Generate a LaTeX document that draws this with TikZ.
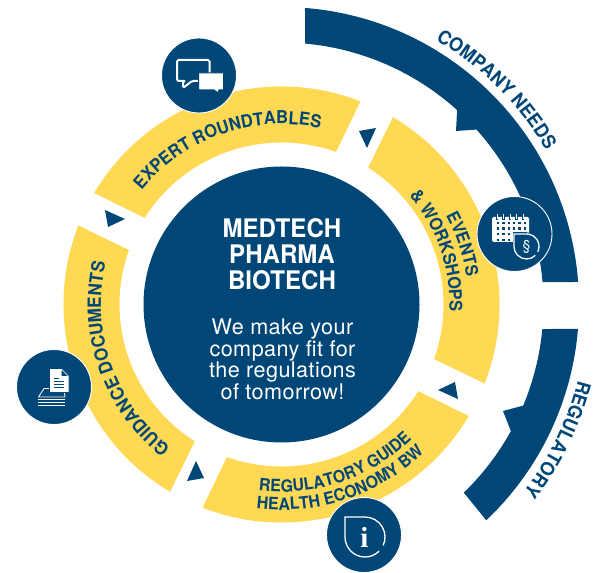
\documentclass[tikz,border=0pt]{standalone}
\usepackage{fontspec}
\setmainfont{TeX Gyre Heros}
\newfontfamily\narrowf[FakeStretch=0.94]{TeX Gyre Heros}
\newfontfamily\serifi{Liberation Serif}
\usetikzlibrary{decorations.text}
\definecolor{navy}{RGB}{0,71,119}
\definecolor{sun}{RGB}{255,216,84}
\newcommand{\fs}[1]{\fontsize{#1}{#1}\selectfont}
% yellow segment: outer a1 -> a2 (cw), inner a2i -> a1i (ccw)
\newcommand{\yseg}[4]{\fill[sun] (#1:218) arc[start angle=#1,end angle=#2,radius=218] -- (#3:162) arc[start angle=#3,end angle=#4,radius=162] -- cycle;}
% text along arc: size, radius, start angle, end angle, text
\newcommand{\arctxt}[5]{\path[decorate,decoration={text along path,text align=center,raise=0pt,
   text={|\narrowf\fs{#1}\bfseries\color{navy}|#5}}] (#3:#2) arc[start angle=#3,end angle=#4,radius=#2];}
% drop outline: cx, cy, r (image coordinates; gap at lower right)
\newcommand{\dropline}[3]{\fill[navy] (#1-#3-1.5,#2-#3-1.5) rectangle (#1,#2);
  \fill[navy] (#1,#2) circle (#3+1.5);
  \draw[white,line width=1.3pt,line join=miter] ([shift={(#1,#2)}]45:#3) arc[start angle=45,end angle=180,radius=#3] -- (#1-#3,#2-#3) -- (#1,#2-#3) arc[start angle=270,end angle=385,radius=#3];}
\tikzset{
  iconball/.style={circle,fill=navy,draw=white,line width=0.9pt,minimum size=75pt,inner sep=0pt},
  iconline/.style={draw=white,line width=2pt,line join=round},
  centertitle/.style={text=white,font=\narrowf\fs{25.6}\bfseries,align=center,inner sep=0pt},
  centerbody/.style={text=white,font=\fs{21.6}\addfontfeature{LetterSpace=2},align=center,inner sep=0pt}
}
\begin{document}
\begin{tikzpicture}[x=1pt,y=1pt]
\useasboundingbox (0,0) rectangle (593,572);
\begin{scope}[shift={(281.5,267.5)}]
  % company needs arc
  \fill[navy] (85.47:297.5) arc[start angle=85.47,end angle=4.34,radius=297.5]
     -- (4.9:262) arc[start angle=4.9,end angle=41.9,radius=262]
     -- (174.5,173.5) -- (47.9:262) arc[start angle=47.9,end angle=84.85,radius=262] -- cycle;
  % regulatory arc
  \fill[navy] (-4.72:297.5) arc[start angle=-4.72,end angle=-46.5,radius=297.5]
     -- (-45.9:262) arc[start angle=-45.9,end angle=-28.9,radius=262]
     -- (221.5,-106.5) -- (-22.7:262) arc[start angle=-22.7,end angle=-5.37,radius=262] -- cycle;
  % yellow ring
  \yseg{149.25}{68.75}{70.35}{147.65}
  \yseg{59.25}{-21.25}{-19.65}{57.65}
  \yseg{-30.75}{-111.25}{-109.65}{-32.35}
  \yseg{-120.75}{-201.25}{-199.65}{-122.35}
  % triangles
  \fill[navy] (77.5,173.5) -- (94.5,176.5) -- (85.5,156.5) -- cycle;
  \fill[navy] (173.5,-77.5) -- (176.5,-94.5) -- (156.5,-85.5) -- cycle;
  \fill[navy] (-77.5,-173.5) -- (-94.5,-176.5) -- (-85.5,-156.5) -- cycle;
  \fill[navy] (-173.5,77.5) -- (-176.5,94.5) -- (-156.5,85.5) -- cycle;
  % centre disc
  \node[circle,fill=navy,minimum size=276pt,inner sep=0pt] (disc) at (0,0) {};
  % arc labels
  \arctxt{19}{306}{75}{15}{COMPANY NEEDS}
  \arctxt{19}{306}{-1}{-51}{REGULATORY}
  \arctxt{17.7}{180.5}{154.2}{64.2}{EXPERT ROUNDTABLES}
  \arctxt{18.2}{180.5}{244.4}{154.4}{GUIDANCE DOCUMENTS}
  \arctxt{17.3}{187}{55}{-18}{EVENTS}
  \arctxt{17.5}{168}{60}{-22}{{\&} WORKSHOPS}
  \arctxt{17}{187.5}{245}{332}{REGULATORY GUIDE}
  \arctxt{17}{205.5}{245}{332}{HEALTH ECONOMY BW}
\end{scope}
% centre text
\node[centertitle,anchor=base] (t1) at (282,334) {MEDTECH};
\node[centertitle,anchor=base] (t2) at (282,308) {PHARMA};
\node[centertitle,anchor=base] (t3) at (282,282) {BIOTECH};
\node[centerbody,anchor=base] (b1) at (282.5,237) {We make your};
\node[centerbody,anchor=base] (b2) at (282.5,215) {company fit for};
\node[centerbody,anchor=base] (b3) at (282.5,194) {the regulations};
\node[centerbody,anchor=base] (b4) at (282.5,172) {of tomorrow!};
% icon balls and icons, in image coordinates
\begin{scope}[shift={(0,572)},yscale=-1]
  \node[iconball] (chat) at (199,75.5) {};
  \node[iconball] (cal) at (514.5,234) {};
  \node[iconball] (doc) at (54,387) {};
  \node[iconball] (info) at (364,535) {};
  % chat icon
  \draw[iconline,rounded corners=1.5pt] (186,81) -- (177,81) -- (177,60) -- (209.5,60) -- (209.5,81) -- (192,81) -- (183,88) -- (183,81) -- cycle;
  \fill[white,draw=navy,line width=1pt] (198.5,73) -- (223.5,73) -- (223.5,90) -- (219,90) -- (218,93) -- (214,90) -- (198.5,90) -- cycle;
  % calendar icon
  \fill[white,rounded corners=1.5pt] (492,217) rectangle (529,242);
  \foreach \x in {497,503.5,510,516.5,523}{
    \draw[navy,line width=2.4pt] (\x,214) -- (\x,220);
    \draw[white,line width=1pt] (\x,214) -- (\x,219);
  }
  \foreach \x in {498,503.4,508.8,514.2,519.6,525}
    \foreach \y in {223,228.6,234.2,239.8}
      \fill[navy] (\x-1.2,\y-1.2) rectangle (\x+1.2,\y+1.2);
  \dropline{526.5}{246.5}{12.5}
  \node[text=white,font=\fs{14},inner sep=0pt] (para) at (526.5,247) {§};
  % document icon
  \draw[white,line width=0.8pt] (38.5,397) -- (44,388.5) -- (64,388.5) -- (65,397) -- cycle;
  \foreach \y in {399.5,402.5,405.5}
    \draw[white,line width=1.2pt] (38,\y) -- (65,\y);
  \fill[white,draw=navy,line width=0.8pt] (49.5,368.5) -- (62,368.5) -- (69,375.5) -- (69,392.5) -- (49.5,392.5) -- cycle;
  \fill[navy] (61.5,370) -- (61.5,376) -- (67.5,376) -- cycle;
  \draw[navy,line width=0.8pt] (54,378.5) -- (59,378.5) (54,381.5) -- (64,381.5) (54,384.5) -- (64,384.5) (54,387.5) -- (64,387.5);
  % info icon
  \dropline{365}{537}{20}
  \node[text=white,font=\serifi\fs{29}\bfseries,inner sep=0pt] (ilabel) at (364.5,537) {i};
\end{scope}
\end{tikzpicture}
\end{document}
